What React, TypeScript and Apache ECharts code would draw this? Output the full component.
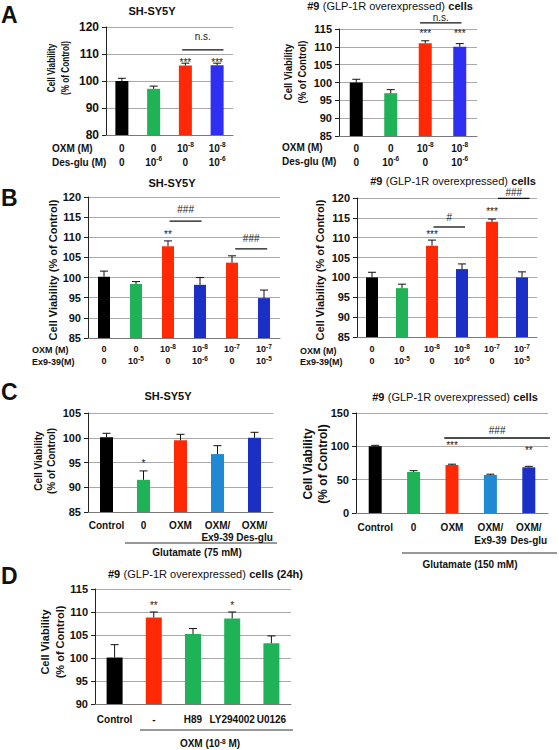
import React, { useEffect, useRef } from "react";
import * as echarts from "echarts";

const SANS = '"Liberation Sans", Arial, Helvetica, sans-serif';

// Bracket rows: [fromCategory, toCategory, lineValue, textValue, text]
type Bracket = [number, number, number, number, string];
// Star rows: [category, value, text]
type Star = [number, number, string];

// ---------- Panel A (left): SH-SY5Y ----------
const aLeftOXM = ["0", "0", "10^-8", "10^-8"];
const aLeftDesGlu = ["0", "10^-6", "0", "10^-6"];
const aLeftValues = [100, 97.1, 105.7, 105.8];
const aLeftErrors = [1.0, 1.0, 0.9, 0.8];
const aLeftStars: Star[] = [[2, 107.0, "***"], [3, 107.0, "***"]];
const aLeftBrackets: Bracket[] = [[1.9, 3.2, 111.5, 116.3, "n.s."]];
const aLeftTicks = { min: 80, max: 120, interval: 10 };

// ---------- Panel A (right): #9 cells ----------
const aRightOXM = ["0", "0", "10^-8", "10^-8"];
const aRightDesGlu = ["0", "10^-6", "0", "10^-6"];
const aRightValues = [100, 97, 111, 110];
const aRightErrors = [0.9, 1.0, 0.7, 0.9];
const aRightStars: Star[] = [[2, 113.6, "***"], [3, 113.6, "***"]];
const aRightBrackets: Bracket[] = [[1.85, 3.05, 116.7, 118.1, "n.s."]];
const aRightTicks = { min: 85, max: 115, interval: 5 };

// ---------- Panel B (left): SH-SY5Y ----------
const bLeftOXM = ["0", "0", "10^-8", "10^-8", "10^-7", "10^-7"];
const bLeftEx = ["0", "10^-5", "0", "10^-6", "0", "10^-5"];
const bLeftValues = [100.2, 98.4, 107.8, 98.2, 103.7, 94.9];
const bLeftErrors = [1.4, 0.6, 1.3, 1.8, 1.7, 2.0];
const bLeftStars: Star[] = [[2, 110.8, "**"]];
const bLeftBrackets: Bracket[] = [
  [2.05, 3.05, 114, 116.8, "###"],
  [4.1, 5.1, 107.1, 109.8, "###"],
];
const bLeftTicks = { min: 85, max: 120, interval: 5 };

// ---------- Panel B (right): #9 cells ----------
const bRightOXM = ["0", "0", "10^-8", "10^-8", "10^-7", "10^-7"];
const bRightEx = ["0", "10^-5", "0", "10^-6", "0", "10^-5"];
const bRightValues = [100, 97.3, 108, 102.1, 114, 100];
const bRightErrors = [1.3, 1.0, 1.4, 1.3, 0.7, 1.4];
const bRightStars: Star[] = [[2, 110.7, "***"], [4, 116.5, "***"]];
const bRightBrackets: Bracket[] = [
  [2.05, 3.1, 112.7, 115.2, "#"],
  [4.2, 5.25, 119.9, 121.3, "###"],
];
const bRightTicks = { min: 85, max: 120, interval: 5 };

// ---------- Panel C (left): SH-SY5Y, glutamate 75 mM ----------
const cCats = ["Control", "0", "OXM", "OXM/\nEx9-39", "OXM/\nDes-glu"];
const cLeftValues = [100.1, 91.5, 99.5, 96.7, 100];
const cLeftErrors = [0.8, 1.8, 1.2, 1.7, 1.1];
const cLeftStars: Star[] = [[1, 94.7, "*"]];
const cLeftBrackets: Bracket[] = [];
const cLeftTicks = { min: 85, max: 105, interval: 5 };

// ---------- Panel C (right): #9 cells, glutamate 150 mM ----------
const cRightValues = [100, 61.5, 72, 57, 68.5];
const cRightErrors = [1.5, 2.0, 1.2, 1.2, 1.5];
const cRightStars: Star[] = [[2, 102, "***"], [4, 94.5, "**"]];
const cRightBrackets: Bracket[] = [[1.8, 4.55, 112.5, 124.5, "###"]];
const cRightTicks = { min: 0, max: 150, interval: 50 };

// ---------- Panel D: #9 cells (24h) ----------
const dCats = ["Control", "-", "H89", "LY294002", "U0126"];
const dValues = [100.1, 108.8, 105.2, 108.6, 103.2];
const dErrors = [2.8, 1.2, 1.2, 1.4, 1.6];
const dStars: Star[] = [[1, 111.5, "**"], [3, 111.5, "*"]];
const dBrackets: Bracket[] = [];
const dTicks = { min: 90, max: 115, interval: 5 };

// ---------- styles ----------
const BLACK = "#000000";
const GREEN = "#1fb257";
const RED = "#ff2a05";
const BLUE_A = "#2f2ff2";
const BLUE_B = "#1c2fc4";
const LIGHT_BLUE = "#1f8ad3";
const INK = "#111111";
const MARK_INK = "#1a1a1a";

const aColors = [BLACK, GREEN, RED, BLUE_A];
const bColors = [BLACK, GREEN, RED, BLUE_B, RED, BLUE_B];
const cColors = [BLACK, GREEN, RED, LIGHT_BLUE, BLUE_B];
const dColors = [BLACK, RED, GREEN, GREEN, GREEN];

const YNAME2 = "Cell Viability\n(% of Control)";
const YNAME1 = "Cell Viability (% of Control)";

function sup(s: string) {
  const parts = s.split("^");
  return parts.length > 1 ? `${parts[0]}{s|${parts[1]}}` : s;
}

type YName = { x: number; y: number; size: number; lineHeight: number; scale: number };

type Panel = {
  grid: { left: number; top: number; width: number; height: number };
  cats: string[];
  values: number[];
  errors: number[];
  colors: string[];
  ticks: { min: number; max: number; interval: number };
  stars: Star[];
  brackets: Bracket[];
  barWidth: number;
  labelMargin: number;
  labelLineHeight: number;
  labelFontSize: number;
  tickFontSize: number;
  name: string;
  yName: YName;
  twoRow: boolean;
};

const tablePair = (a: string[], b: string[]) => a.map((v, i) => `${v}|${b[i]}`);

const panels: Panel[] = [
  {
    grid: { left: 106, top: 27, width: 127, height: 108 },
    cats: tablePair(aLeftOXM, aLeftDesGlu),
    values: aLeftValues, errors: aLeftErrors, colors: aColors, ticks: aLeftTicks,
    stars: aLeftStars, brackets: aLeftBrackets,
    barWidth: 13, labelMargin: 6, labelLineHeight: 14, labelFontSize: 10, tickFontSize: 12,
    name: YNAME2, yName: { x: 58.5, y: 68, size: 10, lineHeight: 13.5, scale: 0.82 }, twoRow: true,
  },
  {
    grid: { left: 339, top: 29, width: 138, height: 107 },
    cats: tablePair(aRightOXM, aRightDesGlu),
    values: aRightValues, errors: aRightErrors, colors: aColors, ticks: aRightTicks,
    stars: aRightStars, brackets: aRightBrackets,
    barWidth: 13, labelMargin: 5, labelLineHeight: 14, labelFontSize: 10, tickFontSize: 11,
    name: YNAME2, yName: { x: 295, y: 72, size: 10, lineHeight: 14, scale: 0.95 }, twoRow: true,
  },
  {
    grid: { left: 88, top: 197, width: 192, height: 141 },
    cats: tablePair(bLeftOXM, bLeftEx),
    values: bLeftValues, errors: bLeftErrors, colors: bColors, ticks: bLeftTicks,
    stars: bLeftStars, brackets: bLeftBrackets,
    barWidth: 12, labelMargin: 5, labelLineHeight: 12, labelFontSize: 9, tickFontSize: 11,
    name: YNAME1, yName: { x: 53, y: 270, size: 11, lineHeight: 13, scale: 1 }, twoRow: true,
  },
  {
    grid: { left: 357, top: 198, width: 180, height: 139 },
    cats: tablePair(bRightOXM, bRightEx),
    values: bRightValues, errors: bRightErrors, colors: bColors, ticks: bRightTicks,
    stars: bRightStars, brackets: bRightBrackets,
    barWidth: 12, labelMargin: 6, labelLineHeight: 12, labelFontSize: 9, tickFontSize: 11,
    name: YNAME1, yName: { x: 320, y: 270, size: 11, lineHeight: 13, scale: 1 }, twoRow: true,
  },
  {
    grid: { left: 88, top: 413, width: 185, height: 99 },
    cats: cCats,
    values: cLeftValues, errors: cLeftErrors, colors: cColors, ticks: cLeftTicks,
    stars: cLeftStars, brackets: cLeftBrackets,
    barWidth: 13, labelMargin: 7, labelLineHeight: 12, labelFontSize: 10, tickFontSize: 11,
    name: YNAME2, yName: { x: 45, y: 461, size: 10, lineHeight: 13.5, scale: 1 }, twoRow: false,
  },
  {
    grid: { left: 356, top: 413, width: 192, height: 100 },
    cats: cCats,
    values: cRightValues, errors: cRightErrors, colors: cColors, ticks: cRightTicks,
    stars: cRightStars, brackets: cRightBrackets,
    barWidth: 13, labelMargin: 8, labelLineHeight: 13, labelFontSize: 10, tickFontSize: 11,
    name: YNAME2, yName: { x: 315.5, y: 464, size: 12, lineHeight: 15, scale: 1 }, twoRow: false,
  },
  {
    grid: { left: 95, top: 589, width: 196, height: 115 },
    cats: dCats,
    values: dValues, errors: dErrors, colors: dColors, ticks: dTicks,
    stars: dStars, brackets: dBrackets,
    barWidth: 16, labelMargin: 9, labelLineHeight: 12, labelFontSize: 10, tickFontSize: 11,
    name: YNAME2, yName: { x: 52.5, y: 642, size: 11, lineHeight: 15, scale: 1 }, twoRow: false,
  },
];

function bold(size: number) {
  return `bold ${size}px ${SANS}`;
}

const cellsTitleRich = {
  b: { fontFamily: SANS, fontWeight: "bold", fontSize: 11, fill: INK },
  n: { fontFamily: SANS, fontWeight: "normal", fontSize: 11, fill: INK },
};

function staticGraphics() {
  const txt = (x: number, y: number, text: string, font: string, align = "center") => ({
    type: "text",
    x,
    y,
    silent: true,
    style: { text, font, fill: INK, align, verticalAlign: "middle" },
  });
  const cellsTitle = (x: number, y: number, suffix = "", align = "center") => ({
    type: "text",
    x,
    y,
    silent: true,
    style: {
      text: `{b|#9} {n|(GLP-1R overexpressed)} {b|cells${suffix}}`,
      rich: cellsTitleRich,
      align,
      verticalAlign: "middle",
    },
  });
  const hline = (x1: number, x2: number, y: number) => ({
    type: "line",
    silent: true,
    shape: { x1, y1: y, x2, y2: y },
    style: { stroke: "#333", lineWidth: 1 },
  });
  const names = panels.map((p) => ({
    type: "text",
    x: p.yName.x,
    y: p.yName.y,
    rotation: Math.PI / 2,
    scaleX: p.yName.scale,
    silent: true,
    style: {
      text: p.name,
      font: bold(p.yName.size),
      lineHeight: p.yName.lineHeight,
      fill: INK,
      align: "center",
      verticalAlign: "middle",
    },
  }));
  return [
    txt(1, 15, "A", bold(23), "left"),
    txt(1, 198, "B", bold(23), "left"),
    txt(1, 392, "C", bold(23), "left"),
    txt(1, 576, "D", bold(23), "left"),
    txt(152, 11, "SH-SY5Y", bold(11)),
    cellsTitle(390, 6),
    txt(172, 183, "SH-SY5Y", bold(11)),
    cellsTitle(453, 181),
    txt(168, 396, "SH-SY5Y", bold(11)),
    cellsTitle(455, 397),
    cellsTitle(108, 574, " (24h)", "left"),
    ...names,
    txt(52, 148, "OXM (M)", bold(10), "left"),
    txt(52, 162, "Des-glu (M)", bold(10), "left"),
    txt(282, 147, "OXM (M)", bold(10), "left"),
    txt(282, 161, "Des-glu (M)", bold(10), "left"),
    txt(32, 350, "OXM (M)", bold(9), "left"),
    txt(32, 362, "Ex9-39(M)", bold(9), "left"),
    txt(300, 351, "OXM (M)", bold(9), "left"),
    txt(300, 362, "Ex9-39(M)", bold(9), "left"),
    hline(125, 277, 543),
    txt(197, 552, "Glutamate (75 mM)", bold(10)),
    hline(402, 557, 553),
    txt(470, 564, "Glutamate (150 mM)", bold(10)),
    hline(140, 293, 730),
    {
      type: "text",
      x: 210,
      y: 743,
      silent: true,
      style: {
        text: "OXM (10{s|-8} M)",
        font: bold(10),
        fill: INK,
        align: "center",
        verticalAlign: "middle",
        rich: {
          s: { fontFamily: SANS, fontWeight: "bold", fontSize: 6.5, fill: INK, verticalAlign: "top", lineHeight: 8 },
        },
      },
    },
  ];
}

function buildOption() {
  const grid: any[] = [];
  const xAxis: any[] = [];
  const yAxis: any[] = [];
  const series: any[] = [];

  panels.forEach((p, i) => {
    grid.push({ ...p.grid });
    xAxis.push({
      type: "category",
      gridIndex: i,
      data: p.cats,
      axisTick: { show: false },
      axisLine: { show: true, lineStyle: { color: "#7a7a7a", width: 1 } },
      axisLabel: {
        interval: 0,
        hideOverlap: false,
        margin: p.labelMargin,
        color: INK,
        fontFamily: SANS,
        fontWeight: "bold",
        fontSize: p.labelFontSize,
        lineHeight: p.labelLineHeight,
        formatter: (v: string) =>
          p.twoRow ? v.split("|").map(sup).join("\n") : v,
        rich: {
          s: {
            fontFamily: SANS,
            fontWeight: "bold",
            fontSize: 6.5,
            color: INK,
            verticalAlign: "top",
            lineHeight: 8,
          },
        },
      },
      splitLine: { show: false },
    });
    yAxis.push({
      type: "value",
      gridIndex: i,
      min: p.ticks.min,
      max: p.ticks.max,
      interval: p.ticks.interval,
      axisLine: { show: true, lineStyle: { color: "#222", width: 1 } },
      axisTick: { show: true, length: 4, lineStyle: { color: "#222" } },
      axisLabel: {
        color: INK,
        fontFamily: SANS,
        fontWeight: "bold",
        fontSize: p.tickFontSize,
        margin: 7,
      },
      splitLine: { show: true, lineStyle: { color: "#a9a9a9", width: 1 } },
    });
    series.push({
      type: "bar",
      xAxisIndex: i,
      yAxisIndex: i,
      barWidth: p.barWidth,
      data: p.values.map((v, j) => ({ value: v, itemStyle: { color: p.colors[j] } })),
      z: 2,
      silent: true,
    });
    series.push({
      type: "custom",
      xAxisIndex: i,
      yAxisIndex: i,
      silent: true,
      z: 3,
      itemStyle: { color: INK },
      data: p.values.map((v, j) => [j, v, v + p.errors[j]]),
      renderItem: (_params: any, api: any) => {
        const x = api.value(0);
        const lo = api.coord([x, api.value(1)]);
        const hi = api.coord([x, api.value(2)]);
        const cap = 4;
        return {
          type: "group",
          children: [
            {
              type: "line",
              shape: { x1: lo[0], y1: lo[1], x2: hi[0], y2: hi[1] },
              style: { stroke: INK, lineWidth: 1 },
            },
            {
              type: "line",
              shape: { x1: hi[0] - cap, y1: hi[1], x2: hi[0] + cap, y2: hi[1] },
              style: { stroke: INK, lineWidth: 1 },
            },
          ],
        };
      },
    });
    if (p.brackets.length) {
      series.push({
        type: "custom",
        xAxisIndex: i,
        yAxisIndex: i,
        silent: true,
        z: 4,
        clip: false,
        itemStyle: { color: INK },
        data: p.brackets.map((b) => [0, b[2]]),
        renderItem: (params: any, api: any) => {
          const b = p.brackets[params.dataIndex];
          const base = api.coord([0, api.value(1)]);
          const band = api.size([1, 0])[0];
          return {
            type: "line",
            shape: { x1: base[0] + b[0] * band, y1: base[1], x2: base[0] + b[1] * band, y2: base[1] },
            style: { stroke: INK, lineWidth: 1.3 },
          };
        },
      });
    }
  });

  return {
    animation: false,
    backgroundColor: "#ffffff",
    textStyle: { fontFamily: SANS },
    grid,
    xAxis,
    yAxis,
    series,
    graphic: staticGraphics(),
  };
}

// Significance texts placed through the chart's own scales.
function markTexts(chart: any) {
  const out: any[] = [];
  const mark = (x: number, y: number, text: string) => ({
    type: "text",
    x,
    y,
    silent: true,
    z: 10,
    style: { text, font: `10px ${SANS}`, fill: MARK_INK, align: "center", verticalAlign: "middle" },
  });
  panels.forEach((p, i) => {
    const finder = { xAxisIndex: i, yAxisIndex: i };
    p.stars.forEach((s) => {
      const pt = chart.convertToPixel(finder, [s[0], s[1]]);
      out.push(mark(pt[0], pt[1], s[2]));
    });
    p.brackets.forEach((b) => {
      const p0 = chart.convertToPixel(finder, [0, b[3]]);
      const p1 = chart.convertToPixel(finder, [1, b[3]]);
      const band = p1[0] - p0[0];
      const cx = p0[0] + ((b[0] + b[1]) / 2) * band;
      out.push(mark(cx, p0[1], b[4]));
    });
  });
  return out;
}

export default function App() {
  const ref = useRef<HTMLDivElement>(null);
  useEffect(() => {
    if (!ref.current) return;
    const chart = echarts.init(ref.current, undefined, { renderer: "svg" });
    chart.setOption(buildOption() as any);
    chart.setOption({ graphic: [...staticGraphics(), ...markTexts(chart)] } as any);
    return () => chart.dispose();
  }, []);
  return (
    <div
      ref={ref}
      style={{ position: "absolute", left: 0, top: 0, width: 559, height: 750, background: "#fff" }}
    />
  );
}
